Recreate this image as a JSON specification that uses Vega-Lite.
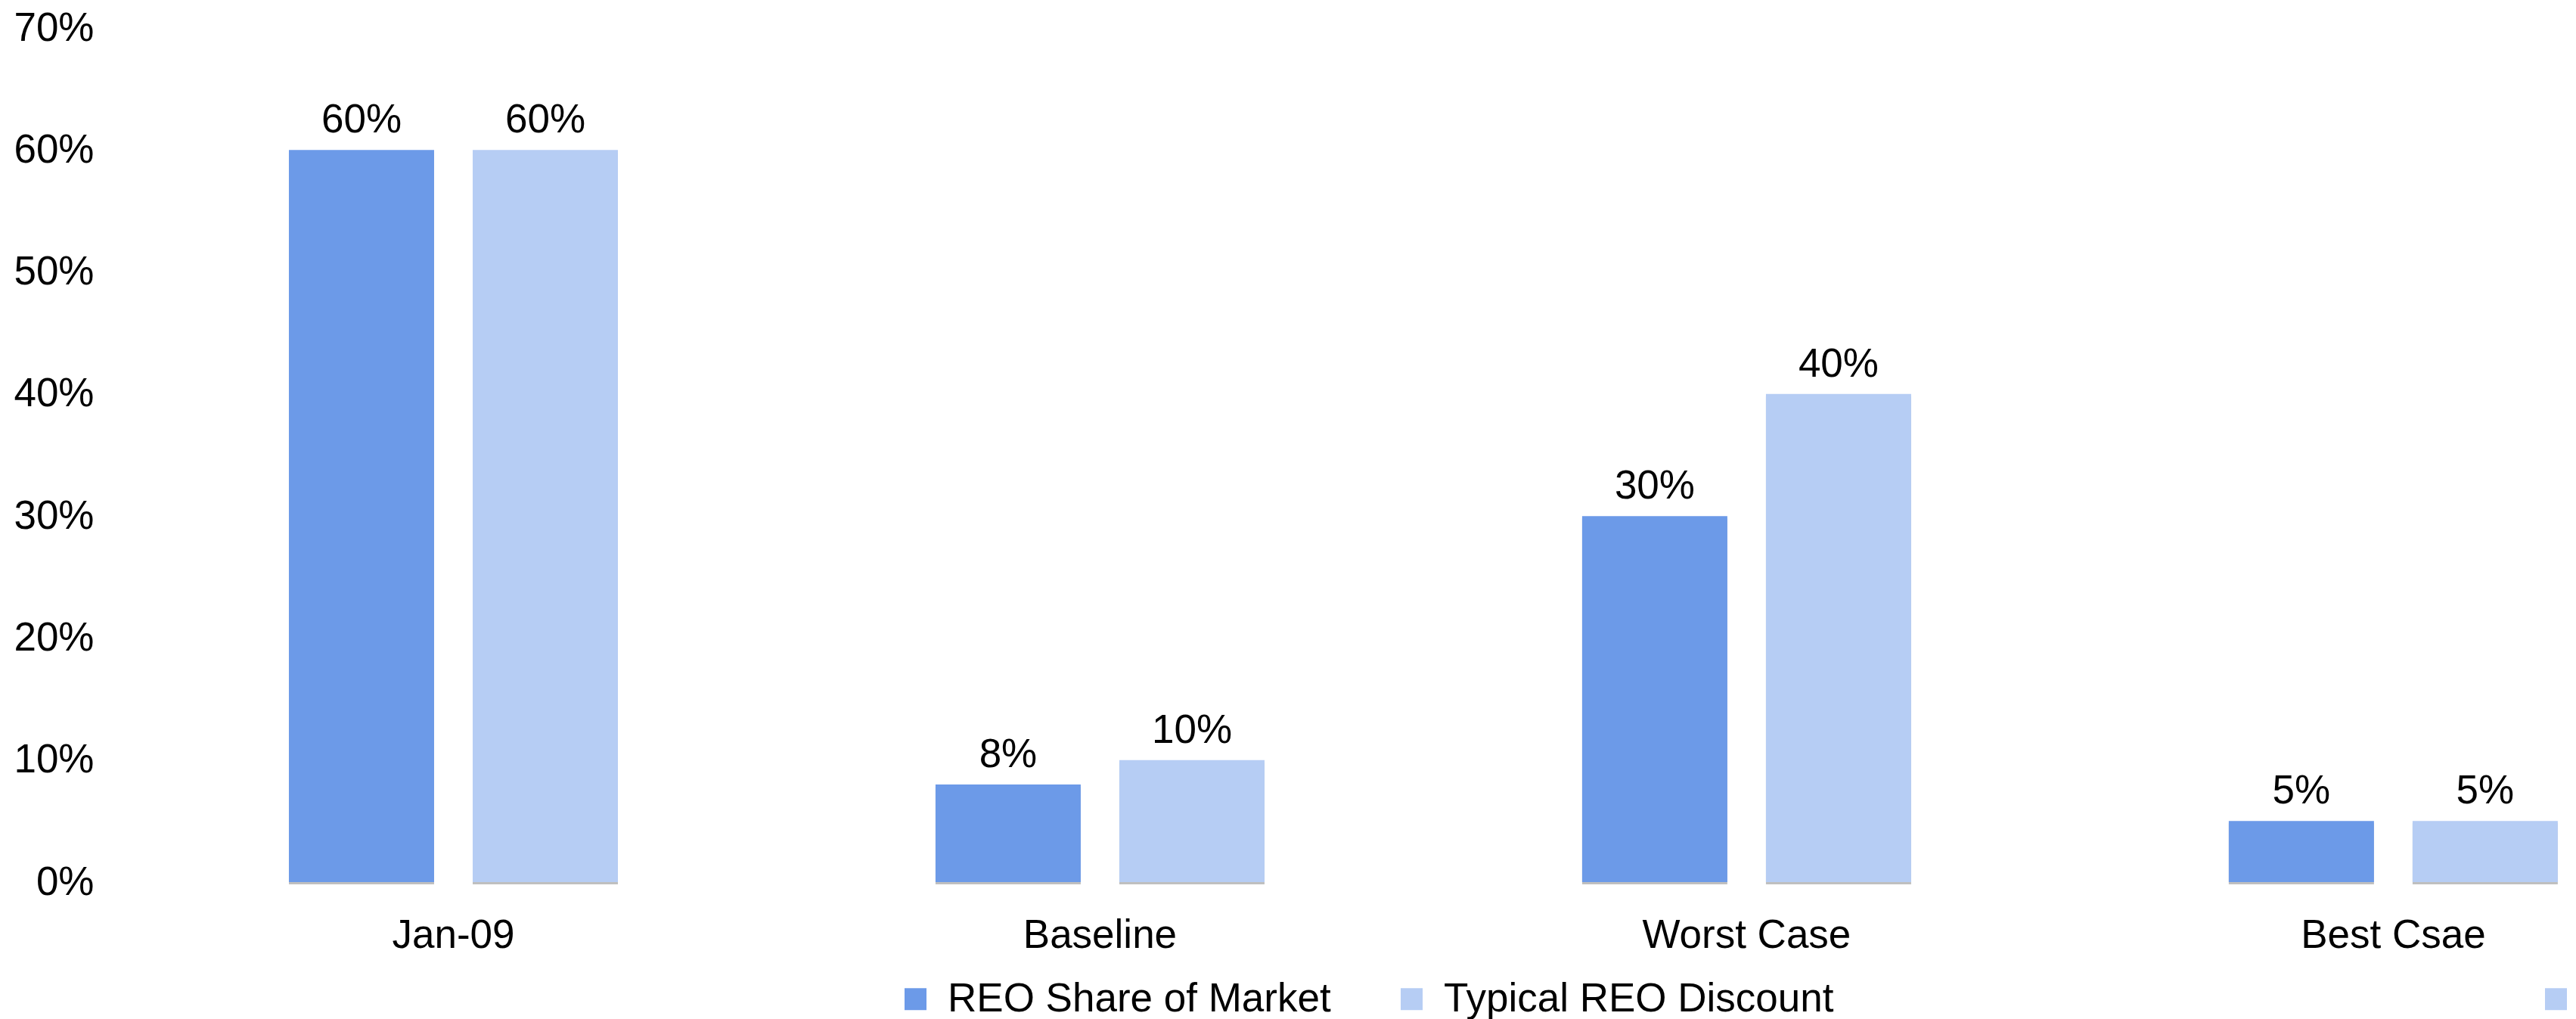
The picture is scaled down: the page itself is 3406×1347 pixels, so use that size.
{
  "$schema": "https://vega.github.io/schema/vega-lite/v6.json",
  "autosize": {"type": "none"},
  "padding": {"left": 172, "top": 37, "right": 0, "bottom": 181},
  "width": 3234,
  "height": 1129,
  "background": "white",
  "config": {
    "view": {"stroke": null},
    "font": "Liberation Sans",
    "axis": {"labelFont": "Liberation Sans", "labelColor": "#000000"},
    "legend": {"labelFont": "Liberation Sans"}
  },
  "data": {
    "values": [
      {"scenario": "Jan-09", "series": "REO Share of Market", "value": 0.60},
      {"scenario": "Jan-09", "series": "Typical REO Discount", "value": 0.60},
      {"scenario": "Baseline", "series": "REO Share of Market", "value": 0.08},
      {"scenario": "Baseline", "series": "Typical REO Discount", "value": 0.10},
      {"scenario": "Worst Case", "series": "REO Share of Market", "value": 0.30},
      {"scenario": "Worst Case", "series": "Typical REO Discount", "value": 0.40},
      {"scenario": "Best Csae", "series": "REO Share of Market", "value": 0.05},
      {"scenario": "Best Csae", "series": "Typical REO Discount", "value": 0.05}
    ]
  },
  "encoding": {
    "x": {
      "field": "scenario",
      "type": "nominal",
      "sort": ["Jan-09", "Baseline", "Worst Case", "Best Csae"],
      "scale": {"paddingInner": 0.4912, "paddingOuter": 0.1369, "align": 0.897},
      "axis": {
        "title": null,
        "labelAngle": 0,
        "labelFontSize": 53,
        "labelPadding": 44,
        "labelLimit": 0,
        "ticks": false,
        "tickSize": 0,
        "domain": false,
        "grid": false
      }
    },
    "xOffset": {
      "field": "series",
      "type": "nominal",
      "sort": ["REO Share of Market", "Typical REO Discount"],
      "scale": {"paddingInner": 0.21, "paddingOuter": 0}
    },
    "y": {
      "field": "value",
      "type": "quantitative",
      "scale": {"domain": [0, 0.7], "nice": false},
      "axis": {
        "title": null,
        "format": ".0%",
        "values": [0, 0.1, 0.2, 0.3, 0.4, 0.5, 0.6, 0.7],
        "labelFontSize": 53,
        "labelPadding": 48,
        "ticks": false,
        "tickSize": 0,
        "domain": false,
        "grid": false
      }
    }
  },
  "layer": [
    {
      "mark": {"type": "bar", "color": "#8a8a8a", "opacity": 0.55, "xOffset": 5, "yOffset": 3}
    },
    {
      "mark": {"type": "bar"},
      "encoding": {
        "color": {
          "field": "series",
          "type": "nominal",
          "scale": {
            "domain": ["REO Share of Market", "Typical REO Discount", " "],
            "range": ["#6c9ae8", "#b6cdf4", "#b6cdf4"]
          },
          "legend": {
            "title": null,
            "orient": "none",
            "direction": "horizontal",
            "legendX": 1012,
            "legendY": 1257,
            "padding": 0,
            "symbolType": "square",
            "symbolSize": 841,
            "symbolStrokeWidth": 0,
            "labelFontSize": 53,
            "labelColor": "#000000",
            "labelOffset": 16,
            "columnPadding": 80,
            "labelLimit": 0,
            "labelExpr": "datum.value == 'Typical REO Discount' ? datum.label + '  \u2800\u2800\u2800\u2800\u2800\u2800\u2800\u2800\u2800\u2800\u2800\u2800\u2800\u2800\u2800\u2800\u2800\u2800\u2800\u2800\u2800' : (datum.value == ' ' ? '' : datum.label)"
          }
        }
      }
    },
    {
      "mark": {"type": "text", "baseline": "alphabetic", "dy": -23, "fontSize": 53, "color": "#000000"},
      "encoding": {
        "text": {"field": "value", "type": "quantitative", "format": ".0%"}
      }
    }
  ]
}
